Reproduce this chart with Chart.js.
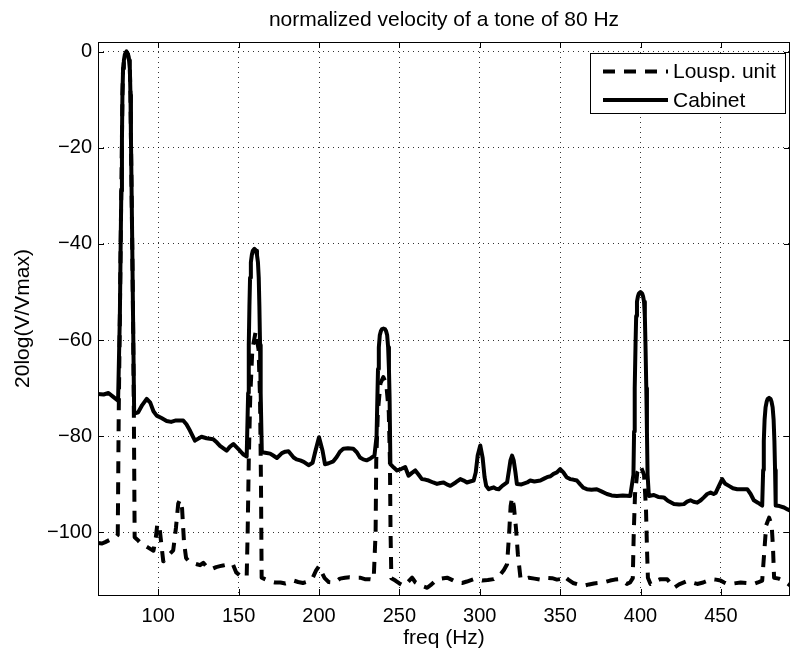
<!DOCTYPE html>
<html>
<head>
<meta charset="utf-8">
<script src="https://cdn.jsdelivr.net/npm/chart.js@4.4.1/dist/chart.umd.min.js"></script>
<style>
  html, body { margin: 0; padding: 0; background: #fff; }
  #wrap { width: 791px; height: 653px; }
</style>
</head>
<body>
<div id="wrap"><canvas id="velocityChart" width="791" height="653"></canvas></div>
<script>
// tone of 80 Hz, levels in dB re max
var titleText = 'normalized velocity of a tone of 80 Hz';
var xLabel = 'freq (Hz)';
var yLabel = '20log(V/Vmax)';
var xTicks = [100, 150, 200, 250, 300, 350, 400, 450];
var yTicks = [-100, -80, -60, -40, -20, 0];
var seriesNames = ['Lousp. unit', 'Cabinet'];

var unitFreq = [62.5, 65, 67, 70, 73, 74.8,
  75.4, 76.1, 76.6, 77, 77.4, 77.7, 78.1, 78.6, 79.2, 80.2, 81.2, 81.8, 82.3, 82.7, 83, 83.4, 83.8, 84.3, 84.8,
  85.3, 87, 89, 91, 94, 97, 98.5, 99.4, 100.6, 101.6, 103.1, 105, 107, 109.3, 111, 112.4, 113.5, 114.8, 116, 117.3, 119,
  121, 124, 126, 128, 131, 134, 136, 138.4, 141, 144.5, 146.5, 148.5, 151, 153, 155, 155.6, 156.3, 157.2, 158.5, 160.6,
  162.4, 163.3, 163.9, 164.3, 167, 170, 172.7, 176, 179, 182, 184.2, 187, 190, 193, 196, 198, 200, 202, 203.5, 206,
  210, 213, 216.2, 219, 222, 225.5, 228.5, 231.8, 234, 235.2, 235.6, 236.6, 238.2, 240, 241.8, 243.4, 244.1, 244.5, 245, 247.5,
  250, 252.7, 255, 257.9, 260, 263, 267.3, 270, 272.5, 276, 279.7, 283, 285.9, 289, 292, 296.3, 299, 301.5, 305, 308.7,
  311, 312.9, 315, 317, 318.3, 319.2, 320.1, 321.2, 322.5, 323.7, 325.4, 328, 330.5, 334, 337.7, 341, 345, 348, 350, 352.1,
  355, 358, 361, 364.5, 368, 371, 374, 377, 381.1, 384, 387.3, 389.5, 391.5, 393.5, 395.2, 395.8, 396.6, 398, 400, 402.2,
  403.4, 404, 404.6, 406.2, 409, 412.4, 416.6, 419, 420.8, 424, 429.1, 432, 435.3, 439, 442, 444.6, 447, 449.8, 452, 454,
  458, 462.3, 466, 470.6, 473, 475.7, 477, 478.2, 480, 481.6, 482.4, 483.1, 486, 489.3, 491.5, 493.5];
var unitLevel = [-102.2, -102.3, -102, -101.5, -101.2, -100.5,
  -75, -55, -40, -29, -18, -9, -3.5, -1.8, -0.6, 0, -0.6, -1.8, -3.5, -9, -18, -29, -40, -55, -75,
  -101, -101.5, -102.2, -102.6, -103.2, -103.8, -101, -98.3, -98.4, -101.5, -106, -105.5, -104.5, -103.7, -99, -94, -93.2, -95, -102, -105.3, -106,
  -106.3, -106.6, -106.8, -106.3, -107.5, -107.5, -107.2, -107, -106.8, -106.5, -106.7, -108.3, -109, -109, -109.2, -100, -85, -72, -62, -58.2,
  -62, -72, -90, -109.4, -109.8, -110.2, -110.4, -110.4, -110.6, -110.3, -110, -110.3, -110.5, -110.2, -109.5, -108, -107, -108.5, -109.5, -110.3,
  -110.4, -109.6, -109.4, -109.3, -109.4, -109.4, -109.7, -109.7, -109.8, -100, -85, -75, -69, -67.7, -69, -75, -85, -100, -109.5, -110,
  -110.6, -111.1, -110.4, -109.4, -110.4, -111, -111.5, -110.8, -110, -109.6, -109.4, -109.9, -110.4, -110.5, -110.2, -109.7, -109.8, -110, -109.9, -109.7,
  -109.2, -108.7, -107.8, -106.6, -100, -94.5, -92.7, -94.5, -99, -104.5, -109.7, -109.6, -109.4, -109.6, -109.8, -109.4, -109.5, -109.8, -109.7, -109,
  -109.8, -110.5, -110.8, -111.1, -110.8, -110.6, -110.5, -110.4, -110, -109.8, -109.7, -110.2, -110.7, -110.4, -109.5, -100, -92, -87.5, -86.1, -88,
  -95, -103, -109.4, -110.7, -110.2, -109.7, -109.7, -110.7, -111.5, -110.8, -110.1, -110.4, -110.7, -110.4, -110, -109.7, -109.8, -110, -110.4, -110.7,
  -110.6, -110.4, -110.5, -110.7, -110.4, -110, -104, -98.5, -96.9, -98.5, -103, -109.4, -109.6, -110.1, -110.6, -111.1];

var cabFreq = [62.5, 66, 69, 72, 75,
  76.1, 76.6, 77, 77.4, 77.7, 78.1, 78.6, 79.2, 80.2, 81.2, 81.8, 82.3, 82.7, 83, 83.4, 83.8, 84.3,
  85, 87.5, 90, 92.8, 95, 97, 99, 102, 105.2, 108, 111, 115.5, 117.5, 119.7, 122.8, 126.9, 130, 134.2, 136.5, 138.4, 142.5, 144.5,
  146.7, 148.5, 150.8, 153, 155,
  155.9, 156.3, 156.7, 157.1, 157.6, 158.2, 158.8, 159.8, 160.8, 161.4, 162, 162.5, 162.9, 163.3, 163.7,
  164.4, 166.5, 169.6, 171.5, 173.8, 176.9, 179, 181, 184.2, 186, 188.3, 190.5, 193.5, 196, 197.8, 200, 202.2, 203.7, 206, 208.9,
  211, 213, 215.1, 218, 221.3, 223.5, 225.5, 227.5, 229.6, 232, 234.5,
  235.8, 236.3, 236.7, 237.2, 237.8, 238.5, 239.2, 240.1, 241, 241.7, 242.4, 243, 243.5, 243.9, 244.4,
  246.5, 248.5, 251, 253.6, 255.7, 257.8, 259.9, 262, 264, 266, 268.2, 271, 273.4, 275.5, 277.5, 279.5, 281.7, 285, 287.9, 290,
  292, 294, 296.2, 297.5, 298.7, 300.3, 301.8, 303, 304, 305.6, 307, 308.7, 310, 311.8, 314, 317, 318.2, 319.1, 320.1, 321.1,
  322.2, 323.1, 326, 329.5, 331.4, 334, 337.7, 340, 341.8, 344, 345.9, 348, 350, 352, 354, 356.2, 358, 360.4, 362.5, 364.5,
  366.6, 369.5, 372.8, 376, 379.1, 382, 385.3, 389, 393.6,
  395.6, 396, 396.4, 396.9, 397.3, 397.8, 398.4, 399, 400, 401, 401.6, 402.2, 402.7, 403.1, 403.6, 404, 404.4,
  405.2, 408.3, 411, 414.5, 417, 420.8, 424, 427, 429, 431.1, 433, 435.3, 437.5, 439.4, 441.5, 443.6, 445.5, 446.7, 448.5, 450.8,
  452.5, 455, 457.5, 460.2, 463, 466.4, 468.5, 470.5, 473, 475.7,
  476.3, 476.7, 477.2, 477.8, 478.5, 479.1, 480, 480.9, 481.5, 482.2, 482.8, 483.3, 483.7,
  484.1, 486.5, 489.3, 491.5, 493.5];
var cabLevel = [-71.2, -71.3, -71, -71.8, -72.6,
  -55, -40, -29, -18, -9, -3.5, -1.8, -0.6, 0, -0.6, -1.8, -3.5, -9, -18, -29, -40, -55,
  -75.3, -75, -73.5, -72.2, -73, -74.8, -75.7, -76.2, -76.8, -77, -76.7, -76.7, -77.5, -78.8, -80.9, -80.1, -80.4, -80.6, -81.3, -82, -83, -82.2,
  -81.6, -82.2, -83, -83.8, -84.2,
  -71, -61, -53, -47, -43.8, -42.3, -41.4, -41, -41.4, -42.3, -43.8, -47, -53, -61, -71,
  -83.3, -83.4, -83.6, -84, -84.5, -83.5, -83.2, -83.1, -84.4, -84.8, -85, -85.3, -86, -85.5, -83, -80.2, -83, -85.8, -85.6, -85.2,
  -84.3, -83.2, -82.6, -82.5, -82.6, -83.3, -84.4, -84.8, -85, -84.6, -84,
  -80, -72, -66, -61.5, -59, -58.1, -57.7, -57.6, -57.7, -58.1, -59, -61.5, -66, -72, -85.8,
  -86.5, -87.1, -86.8, -86.4, -88.2, -87.6, -87.1, -88, -88.9, -89, -89.2, -89.6, -89.9, -89.7, -89.6, -90, -90.3, -89.6, -88.9, -89.2,
  -89.6, -89.4, -89.2, -87.5, -84, -81.9, -84.5, -88.5, -90.3, -91, -90.8, -90.6, -90.9, -91, -90.3, -89.6, -87, -85, -84, -85,
  -87.5, -89.9, -90, -89.6, -89.2, -89.4, -89.2, -88.8, -88.5, -88.3, -87.8, -87.5, -86.8, -87.5, -88.5, -88.9, -89, -89.2, -90, -90.7,
  -91, -91.1, -91, -91.5, -92, -92.3, -92.4, -92.3, -92.4,
  -88, -79, -70, -61, -55, -52, -50.9, -50.3, -50, -50.3, -50.9, -52, -55, -61, -70, -79, -88,
  -92.4, -92.2, -92.6, -92.7, -93.4, -94.1, -94.2, -94.1, -93.6, -93.3, -93.6, -93.8, -93.3, -92.7, -92, -91.7, -92, -91.8, -90.5, -88.9,
  -89.8, -90.3, -90.8, -91, -91, -91, -92, -93.3, -93.8, -94.4,
  -87, -81, -76.5, -74, -72.8, -72.2, -72, -72.2, -72.8, -74, -76.5, -81, -87,
  -94.4, -94.5, -94.8, -95.2, -95.5];

var fontFamily = '"Liberation Sans", Arial, Helvetica, sans-serif';

function toPoints(xs, ys) {
    var pts = [];
    for (let i = 0; i < xs.length; i++) {
        pts.push({ x: xs[i], y: ys[i] });
    }
    return pts;
}

// matlab style box, inward ticks and legend
var axesBox = {
    id: 'axesBox',
    afterDatasetsDraw(chart) {
        const ctx = chart.ctx;
        const a = chart.chartArea;
        const sx = chart.scales.x;
        const sy = chart.scales.y;
        ctx.save();
        ctx.strokeStyle = '#000';
        ctx.lineWidth = 1;
        ctx.setLineDash([]);
        ctx.beginPath();
        xTicks.forEach(v => {
            let px = Math.round(sx.getPixelForValue(v)) + 0.5;
            ctx.moveTo(px, a.bottom); ctx.lineTo(px, a.bottom - 6);
            ctx.moveTo(px, a.top); ctx.lineTo(px, a.top + 6);
        });
        yTicks.forEach(v => {
            let py = Math.round(sy.getPixelForValue(v)) + 0.5;
            ctx.moveTo(a.left, py); ctx.lineTo(a.left + 6, py);
            ctx.moveTo(a.right, py); ctx.lineTo(a.right - 6, py);
        });
        ctx.stroke();
        ctx.strokeRect(Math.round(a.left) + 0.5, Math.round(a.top) + 0.5,
            Math.round(a.right - a.left) - 1, Math.round(a.bottom - a.top));
        ctx.restore();
    },
    afterDraw(chart) {
        const ctx = chart.ctx;
        const a = chart.chartArea;
        const left = a.right - 200, top = a.top + 11, w = 195, h = 60;
        ctx.save();
        ctx.fillStyle = '#fff';
        ctx.fillRect(left, top, w, h);
        ctx.strokeStyle = '#000';
        ctx.lineWidth = 1;
        ctx.strokeRect(left + 0.5, top + 0.5, w, h);
        chart.data.datasets.forEach((ds, i) => {
            const y = top + 18.5 + i * 28.5;
            ctx.beginPath();
            ctx.lineWidth = ds.borderWidth;
            ctx.lineCap = 'butt';
            ctx.setLineDash(ds.borderDash || []);
            ctx.moveTo(left + 13, y);
            ctx.lineTo(left + 78, y);
            ctx.stroke();
            ctx.setLineDash([]);
            ctx.fillStyle = '#000';
            ctx.font = '21px ' + fontFamily;
            ctx.textBaseline = 'middle';
            ctx.textAlign = 'left';
            ctx.fillText(ds.label, left + 83, y + 1);
        });
        ctx.restore();
    }
};

const graphVelocity = document.querySelector('#velocityChart');
new Chart(graphVelocity, {
    type: 'scatter',
    data: {
        datasets: [
            {
                label: seriesNames[0],
                data: toPoints(unitFreq, unitLevel),
                showLine: true,
                borderColor: '#000',
                borderWidth: 4,
                borderDash: [12, 9],
                borderCapStyle: 'butt',
                borderJoinStyle: 'round',
                pointRadius: 0,
                tension: 0,
                order: 2
            },
            {
                label: seriesNames[1],
                data: toPoints(cabFreq, cabLevel),
                showLine: true,
                borderColor: '#000',
                borderWidth: 4,
                borderJoinStyle: 'round',
                pointRadius: 0,
                tension: 0,
                order: 1
            }
        ]
    },
    options: {
        responsive: false,
        animation: false,
        layout: { padding: { top: 0, right: 1, left: 0, bottom: 0 } },
        plugins: {
            legend: { display: false },
            tooltip: { enabled: false },
            title: {
                display: true,
                fullSize: false,
                text: titleText,
                color: '#000',
                font: { family: fontFamily, size: 21, weight: 'normal', lineHeight: 1.2 },
                padding: { top: 7.4, bottom: 9.4 }
            }
        },
        scales: {
            x: {
                type: 'linear',
                min: 62.5,
                max: 493,
                afterBuildTicks: scale => { scale.ticks = xTicks.map(v => ({ value: v })); },
                afterFit: scale => { scale.height = 58; },
                ticks: {
                    color: '#000',
                    padding: 9,
                    maxRotation: 0,
                    font: { family: fontFamily, size: 20 }
                },
                grid: { color: 'rgba(0,0,0,0.8)', lineWidth: 1, drawTicks: false },
                border: { display: false, dash: [1, 4] },
                title: {
                    display: true,
                    text: xLabel,
                    color: '#000',
                    font: { family: fontFamily, size: 21 },
                    padding: { top: 0, bottom: 2 }
                }
            },
            y: {
                type: 'linear',
                min: -113,
                max: 2,
                afterBuildTicks: scale => { scale.ticks = yTicks.map(v => ({ value: v })); },
                afterFit: scale => { scale.width = 98; },
                ticks: {
                    color: '#000',
                    padding: 6,
                    font: { family: fontFamily, size: 20 },
                    callback: v => String(v).replace('-', '\u2212')
                },
                grid: { color: 'rgba(0,0,0,0.8)', lineWidth: 1, drawTicks: false },
                border: { display: false, dash: [1, 4] },
                title: {
                    display: true,
                    text: yLabel,
                    color: '#000',
                    font: { family: fontFamily, size: 21 },
                    padding: { top: 11, bottom: 0 }
                }
            }
        }
    },
    plugins: [axesBox]
});
</script>
</body>
</html>
